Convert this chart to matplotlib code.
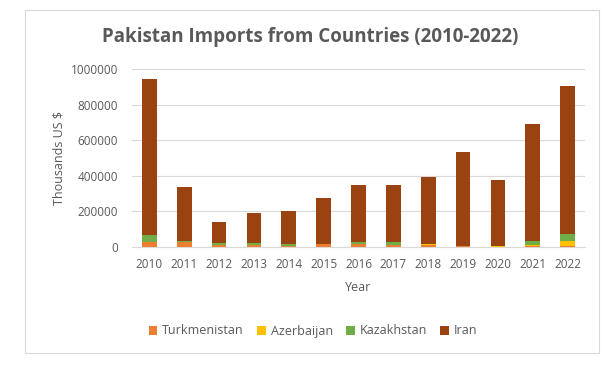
import numpy as np
import matplotlib.pyplot as plt
from matplotlib.patches import Rectangle

# data (thousands US $)
years = ['2010', '2011', '2012', '2013', '2014', '2015', '2016',
         '2017', '2018', '2019', '2020', '2021', '2022']
turkmenistan = [30000, 30000, 10000, 10000, 8000, 15000, 18000,
                10000, 10000, 6000, 0, 8000, 6000]
azerbaijan = [0, 0, 0, 0, 0, 0, 0, 0, 8000, 0, 6000, 5000, 28000]
kazakhstan = [37000, 5000, 12000, 10000, 10000, 0, 8000,
              18000, 0, 0, 0, 20000, 39000]
iran = [877000, 300000, 118000, 170000, 183000, 259000, 320000,
        318000, 373000, 530000, 368000, 660000, 832000]

series = [('Turkmenistan', turkmenistan, '#ED7D31'),
          ('Azerbaijan', azerbaijan, '#FFC000'),
          ('Kazakhstan', kazakhstan, '#70AD47'),
          ('Iran', iran, '#9A4210')]

plt.rcParams['font.family'] = ['Open Sans', 'DejaVu Sans']
txt = '#595959'

fig = plt.figure(figsize=(6.16, 3.69), dpi=100)
# outer chart border
fig.patches.append(Rectangle((25/616, 1-353/369), 574/616, 343/369,
                             transform=fig.transFigure, fill=False,
                             edgecolor='#D9D9D9', lw=0.8))

ax = fig.add_axes([132/616, 1-247/369, 453/616, 178/369])
x = np.arange(len(years))
bottom = np.zeros(len(years))
for name, vals, col in series:
    ax.bar(x, vals, 0.42, bottom=bottom, color=col, label=name, zorder=3)
    bottom += np.array(vals)

ax.set_xlim(-0.5, len(years) - 0.5)
ax.set_ylim(0, 1000000)
ax.set_yticks(np.arange(0, 1000001, 200000))
ax.set_yticklabels([str(v) for v in range(0, 1000001, 200000)])
ax.set_xticks(x)
ax.set_xticklabels(years)
ax.grid(axis='y', color='#D9D9D9', lw=0.8, zorder=0)
for s in ['top', 'right', 'left']:
    ax.spines[s].set_visible(False)
ax.spines['bottom'].set_color('#D9D9D9')
ax.tick_params(length=0, colors=txt, labelsize=8.5)
ax.tick_params(axis='x', pad=8)
ax.tick_params(axis='y', pad=10)

ax.set_xlabel('Year', color=txt, fontsize=9, labelpad=7)
ax.set_ylabel('Thousands US $', color=txt, fontsize=9, labelpad=4)
fig.text(310/616, 1-37/369, 'Pakistan Imports from Countries (2010-2022)',
         ha='center', va='center', fontsize=13.5, fontweight='bold', color=txt)

fig.legend(loc='center', bbox_to_anchor=(313/616, 1-331/369), ncol=4,
           frameon=False, fontsize=9, labelcolor=txt, handlelength=0.7,
           handleheight=0.7, columnspacing=1.05, handletextpad=0.4)

fig.savefig('out.png', dpi=100)
